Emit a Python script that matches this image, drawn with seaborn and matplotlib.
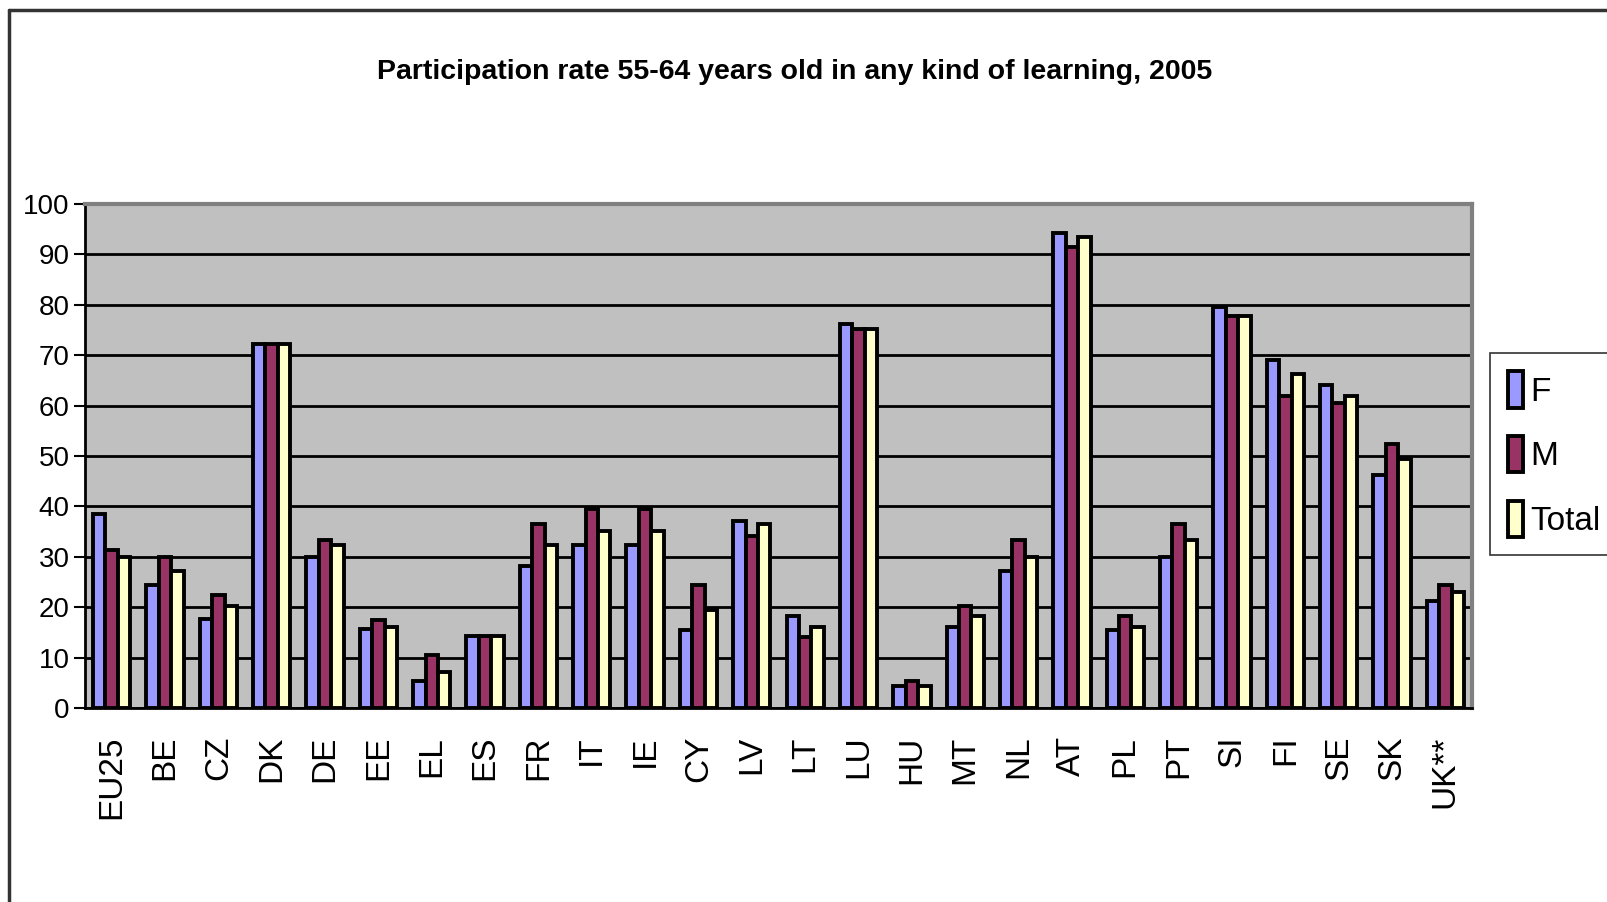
import numpy as np
import pandas as pd
import matplotlib.pyplot as plt
import seaborn as sns
from matplotlib.lines import Line2D
from matplotlib.patches import Patch

# values (percent)
countries = ["EU25", "BE", "CZ", "DK", "DE", "EE", "EL", "ES", "FR", "IT", "IE", "CY", "LV",
             "LT", "LU", "HU", "MT", "NL", "AT", "PL", "PT", "SI", "FI", "SE", "SK", "UK**"]
f_vals = [38.4, 24.4, 17.6, 72.3, 29.9, 15.6, 5.4, 14.2, 28.2, 32.3, 32.3, 15.5, 37.1,
          18.2, 76.1, 4.4, 16.1, 27.1, 94.2, 15.5, 29.9, 79.5, 69.0, 64.0, 46.2, 21.2]
m_vals = [31.3, 29.9, 22.5, 72.3, 33.3, 17.4, 10.5, 14.2, 36.5, 39.5, 39.5, 24.4, 34.1,
          14.1, 75.2, 5.4, 20.2, 33.3, 91.4, 18.2, 36.5, 77.8, 61.9, 60.5, 52.4, 24.4]
t_vals = [29.9, 27.1, 20.3, 72.3, 32.3, 16.1, 7.2, 14.2, 32.3, 35.2, 35.2, 19.5, 36.5,
          16.1, 75.2, 4.4, 18.2, 29.9, 93.4, 16.1, 33.3, 77.8, 66.3, 62.0, 49.5, 23.0]
series = ["F", "M", "Total"]
colors = ["#9999FF", "#993366", "#FFFFCC"]

df = pd.DataFrame({
    "country": countries * 3,
    "series": np.repeat(series, len(countries)),
    "value": f_vals + m_vals + t_vals,
})

sns.set_theme(style="white")
plt.rcParams['font.family'] = ['Liberation Sans', 'DejaVu Sans']
plt.rcParams['text.color'] = 'black'
plt.rcParams['xtick.color'] = 'black'
plt.rcParams['ytick.color'] = 'black'

W, H = 1608, 902
fig = plt.figure(figsize=(W / 100, H / 100), dpi=100)
ax = fig.add_axes([85 / W, 1 - 708 / H, (1472 - 85) / W, (708 - 204) / H])
ax.set_facecolor("#C0C0C0")

sns.barplot(data=df, x="country", y="value", hue="series", order=countries,
            hue_order=series, palette=colors, width=0.7, edgecolor="black",
            linewidth=2.8, saturation=1, legend=False, ax=ax)

ax.set_ylim(0, 100)
ax.set_xlim(-0.5, len(countries) - 0.5)
ax.set_yticks(range(0, 101, 10))
ax.yaxis.grid(True, color="black", lw=2)
ax.set_axisbelow(True)
ax.set_xlabel("")
ax.set_ylabel("")

# ticks between categories, labels centered
ax.set_xticks(np.arange(-0.5, len(countries), 1.0), minor=True)
ax.tick_params(axis="x", which="minor", length=12, width=1.5, color="black", direction="out")
ax.tick_params(axis="x", which="major", length=0, pad=20)
ax.set_xticklabels(countries, rotation=90, fontsize=24)
ax.tick_params(axis="y", length=8, width=1.5, color="black", direction="out", left=True,
               labelsize=20, pad=3)

for s in ["left", "bottom"]:
    ax.spines[s].set_color("black")
    ax.spines[s].set_linewidth(2)
for s in ["top", "right"]:
    ax.spines[s].set_color("#808080")
    ax.spines[s].set_linewidth(3)

handles = [Patch(facecolor=c, edgecolor="black", linewidth=2.8) for c in colors]
leg = fig.legend(handles, series, loc="upper left", bbox_to_anchor=(1490 / W, 1 - 353 / H),
                 fontsize=24, frameon=True, fancybox=False, handlelength=0.45,
                 handleheight=1.3, handletextpad=0.2, labelspacing=0.85,
                 borderpad=0.55, borderaxespad=0)
leg.get_frame().set_edgecolor("black")
leg.get_frame().set_linewidth(1.2)

fig.text(795 / W, 1 - 72 / H, "Participation rate 55-64 years old in any kind of learning, 2005",
         ha="center", va="center", fontsize=20.5, fontweight="bold")

# outer chart-area frame (left and top edges visible)
fig.add_artist(Line2D([9 / W, 9 / W], [0, 1 - 10 / H], color="#333333", lw=2.5))
fig.add_artist(Line2D([9 / W, 1], [1 - 10 / H, 1 - 10 / H], color="#333333", lw=2.5))

fig.savefig("out.png", dpi=100)
